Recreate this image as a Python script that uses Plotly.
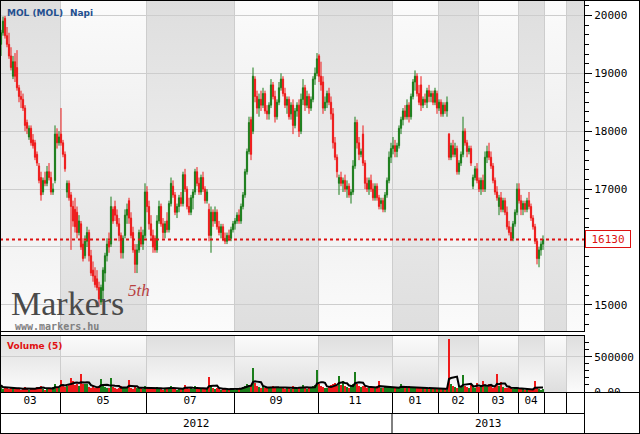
import base64
import pandas as pd
import plotly.graph_objects as go

# ---------------- data ----------------
open_ = [19500,19700,19950,19650,19500,19300,18950,19200,19100,18750,
 18600,18550,18400,18150,17900,18050,17850,17800,17600,17400,
 17200,16950,17150,17100,17300,17200,16950,17150,17950,17800,
 17950,17800,17600,16950,17100,16900,16700,16650,16600,16250,
 16400,16050,15850,16100,16250,15850,15600,15500,15450,15300,
 15050,15250,15550,15850,16100,16050,16650,16700,16550,16400,
 16200,15900,16200,16550,16800,16500,16250,15950,15700,15950,
 16250,16050,16200,16950,16700,16400,16200,16150,15950,16450,
 16700,16400,16250,16450,16300,16750,17050,16900,16600,16700,
 16850,16750,17250,17000,16700,16600,16850,16950,17300,17100,
 16950,17200,17000,16800,16650,16200,16600,16450,16600,16350,
 16250,16350,16150,16100,16200,16150,16300,16400,16450,16550,
 16450,16700,16900,17300,17650,18200,18000,18900,18600,18400,
 18550,18450,18650,18350,18300,18450,18800,18600,18250,18500,
 18750,18900,18650,18450,18550,18300,18450,18100,18350,18450,
 18000,18550,18750,18450,18600,18400,18550,18900,19000,19300,
 18950,18850,18400,18500,18650,18500,18300,17800,17550,17100,
 17200,17100,17150,17000,17050,16900,16950,17400,18150,17800,
 17600,17950,17450,17100,17000,17150,17000,16850,17050,16850,
 16750,16800,16650,16900,17150,17550,17700,17750,17650,17750,
 18050,18200,18350,18250,18450,18250,18600,18850,18950,18650,
 18800,18450,18550,18500,18700,18600,18650,18500,18650,18400,
 18500,18300,18450,18350,17950,17550,17750,17600,17700,17300,
 17450,17600,18000,17800,17650,17700,17050,17200,17350,17150,
 17000,17150,17000,17550,17650,17550,17400,17150,16950,16700,
 16850,16650,16800,16600,16350,16250,16150,16400,16600,17000,
 16800,16650,16750,16650,16800,16700,16500,16350,16100,15800,
 15950,16050]

high = [19750,19980,19990,19800,19700,19450,19300,19350,19400,18800,
 18700,18650,18450,18200,18100,18100,17950,17850,17650,17450,
 17300,17200,17300,17400,17450,17300,17100,18100,18050,18000,
 18400,17850,17650,17150,17150,16950,16800,16850,16700,16550,
 16450,16150,16200,16350,16300,15950,15750,15650,15600,15400,
 15350,15650,15900,16150,16250,16870,16700,16800,16650,16500,
 16250,16200,16650,16750,16850,16600,16350,16050,16050,16300,
 16350,16300,17100,17050,16800,16550,16300,16200,16550,16800,
 16750,16500,16450,16600,16800,17200,17150,16950,16750,16900,
 16950,17300,17350,17050,16850,16900,17000,17350,17380,17200,
 17250,17300,17050,17000,16750,16700,16650,16700,16650,16450,
 16400,16400,16250,16250,16300,16350,16450,16500,16600,16650,
 16750,16950,17350,17700,18250,18250,19100,18950,18700,18650,
 18700,18750,18700,18450,18500,18900,18850,18700,18550,18850,
 19000,18950,18750,18600,18600,18500,18550,18400,18500,18550,
 18650,18900,18800,18700,18650,18600,18950,19100,19350,19330,
 19200,18950,18600,18700,18750,18600,18400,17900,17600,17250,
 17300,17200,17250,17150,17100,17000,17500,18250,18200,17900,
 17700,18100,17500,17200,17200,17250,17100,17100,17100,16900,
 16850,16850,16950,17200,17650,17800,17900,17850,17800,18100,
 18250,18400,18450,18550,18500,18650,18900,19050,19000,18800,
 18950,18600,18650,18750,18800,18700,18700,18750,18700,18550,
 18550,18500,18500,18600,17970,17800,17850,17800,17750,17500,
 17650,18250,18050,17850,17750,17750,17250,17400,17450,17200,
 17200,17250,17650,17750,17800,17650,17450,17200,17050,16900,
 16950,16850,16850,16700,16450,16350,16450,16650,17100,17100,
 16900,16800,16800,16850,16950,16750,16550,16400,16150,16000,
 16100,16200]

low = [19300,19650,19600,19450,19250,19050,18900,18850,18700,18500,
 18400,18350,18000,17950,17850,17750,17700,17500,17400,17100,
 16800,16900,17050,17050,17150,16900,16900,17100,17700,17750,
 17750,17550,17300,16850,16800,15950,16350,16250,16150,16200,
 15950,15750,15800,16000,15750,15500,15400,15300,15250,14970,
 15000,15050,15400,15750,15900,16000,16400,16450,16350,16100,
 15800,15800,16150,16400,16400,16150,15900,15550,15550,15900,
 16000,15950,16150,16600,16300,16100,15900,15900,15900,16400,
 16350,16150,16150,16250,16250,16700,16850,16550,16500,16600,
 16700,16700,16950,16650,16550,16550,16650,16900,17050,16900,
 16900,16950,16750,16750,16100,15900,16350,16400,16300,16200,
 16150,16100,16050,16050,16100,16100,16250,16300,16400,16400,
 16400,16650,16850,17250,17600,17500,17950,18500,18300,18250,
 18350,18400,18300,18200,18200,18400,18550,18150,18200,18450,
 18700,18600,18400,18300,18200,18200,17950,18050,18250,17900,
 17950,18450,18350,18400,18300,18350,18500,18800,18950,18850,
 18700,18300,18350,18400,18450,18200,17700,17500,17200,16900,
 17050,16950,16950,16850,16850,16750,16900,17350,17700,17500,
 17550,17400,17000,16950,16900,16950,16800,16800,16800,16650,
 16650,16600,16600,16850,17100,17450,17600,17550,17550,17700,
 17950,18100,18200,18200,18150,18200,18550,18700,18600,18450,
 18350,18400,18450,18400,18500,18500,18450,18450,18300,18350,
 18250,18250,18300,18250,17500,17500,17550,17550,17250,17250,
 17400,17550,17750,17550,17600,17400,17000,17150,17100,16950,
 16900,16950,16950,17450,17500,17350,17100,16900,16800,16550,
 16600,16600,16550,16300,16200,16100,16100,16350,16550,16750,
 16550,16550,16600,16600,16650,16450,16300,16050,15700,15650,
 15850,15950]

close = [19700,19900,19650,19500,19300,19100,19200,18950,18750,18600,
 18550,18400,18100,18050,18050,17800,17750,17550,17450,17150,
 16900,17150,17100,17300,17200,16950,17000,17950,17800,17900,
 17800,17600,17350,17100,16850,16700,16450,16350,16250,16450,
 16000,15800,16100,16250,15850,15550,15500,15350,15300,15100,
 15300,15600,15850,16050,16000,16700,16450,16550,16400,16200,
 15900,16150,16550,16650,16500,16200,15950,15700,15950,16250,
 16050,16200,16950,16700,16400,16200,16000,15950,16450,16700,
 16400,16250,16400,16300,16750,17100,16900,16600,16700,16850,
 16750,17250,17000,16700,16600,16850,16950,17300,17100,16950,
 17200,17000,16800,16950,16200,16600,16450,16600,16350,16250,
 16350,16150,16100,16200,16150,16300,16400,16450,16550,16450,
 16700,16900,17300,17650,18150,17600,18950,18600,18400,18550,
 18450,18650,18350,18300,18450,18800,18600,18250,18500,18750,
 18900,18650,18450,18550,18250,18450,18100,18350,18450,18000,
 18550,18750,18450,18600,18400,18550,18900,19000,19250,18950,
 18800,18400,18500,18650,18500,18300,17800,17550,17300,17200,
 17100,17150,17000,17050,16900,16950,17400,18150,17800,17600,
 17650,17450,17100,17000,17150,17000,16850,17050,16850,16700,
 16800,16650,16900,17150,17550,17700,17750,17650,17750,18050,
 18200,18350,18250,18450,18250,18600,18850,18950,18650,18500,
 18450,18550,18500,18700,18600,18650,18500,18700,18400,18500,
 18300,18450,18350,18500,17550,17750,17600,17700,17300,17450,
 17600,18000,17800,17650,17700,17450,17200,17350,17150,17000,
 17150,17000,17550,17650,17550,17400,17150,16950,16850,16850,
 16650,16800,16600,16350,16250,16150,16400,16600,17000,16800,
 16650,16750,16650,16800,16700,16500,16350,16100,15800,15950,
 16050,16130]

volume = [95000,40000,70000,55000,40000,65000,50000,45000,60000,40000,
 35000,50000,70000,45000,30000,55000,40000,60000,75000,50000,
 80000,45000,35000,60000,40000,55000,65000,110000,70000,60000,
 170000,90000,75000,85000,120000,200000,150000,95000,110000,85000,
 250000,120000,110000,120000,70000,60000,80000,55000,65000,90000,
 190000,100000,75000,60000,50000,200000,70000,60000,45000,55000,
 80000,60000,70000,55000,170000,60000,45000,85000,55000,50000,
 60000,45000,90000,70000,55000,40000,60000,50000,75000,45000,
 40000,35000,55000,45000,60000,80000,50000,40000,35000,55000,
 45000,60000,100000,50000,40000,65000,45000,80000,50000,40000,
 55000,45000,60000,40000,210000,90000,50000,45000,60000,40000,
 35000,50000,40000,30000,45000,55000,40000,35000,50000,45000,
 60000,70000,85000,110000,95000,80000,340000,130000,90000,75000,
 60000,80000,55000,50000,65000,75000,90000,60000,50000,55000,
 70000,55000,45000,60000,50000,40000,85000,55000,45000,70000,
 60000,100000,55000,45000,60000,50000,80000,95000,310000,120000,
 90000,70000,55000,60000,80000,95000,110000,130000,90000,220000,
 100000,150000,80000,70000,60000,90000,110000,290000,120000,85000,
 70000,90000,80000,60000,55000,70000,65000,50000,80000,150000,
 60000,55000,70000,80000,90000,60000,75000,55000,65000,50000,
 120000,70000,60000,55000,80000,65000,75000,60000,55000,70000,
 60000,50000,65000,45000,55000,60000,40000,50000,55000,45000,
 50000,40000,45000,35000,750000,120000,90000,70000,60000,80000,
 55000,240000,90000,70000,60000,120000,85000,60000,130000,70000,
 65000,150000,80000,70000,110000,90000,60000,75000,250000,80000,
 140000,70000,60000,55000,65000,50000,45000,60000,55000,50000,
 40000,45000,35000,40000,30000,45000,35000,150000,60000,40000,
 35000,40000]

month_labels = ["03", "05", "07", "09", "11", "01", "02", "03", "04", "", ""]
month_days = [30, 43, 44, 42, 37, 23, 20, 20, 13, 11, 9]   # trading days per cell
year_labels = ["2012", "2013"]
year_cells = [5, 6]                                         # month cells per year
last_price = 16130
price_ticks = [15000, 16000, 17000, 18000, 19000, 20000]
price_ticktext = ["15000", "", "17000", "18000", "19000", "20000"]  # 16000 hidden by price box
volume_ticks = [0, 500000]
volume_ticktext = ["0.00", "500000"]
title_text = "MOL (MOL)"
period_text = "Napi"
volume_title = "Volume (5)"

# ---------------- derived ----------------
days = list(range(len(close)))
bounds = [-0.5]
for d in month_days:
    bounds.append(bounds[-1] + d)
centers = [(bounds[k] + bounds[k + 1]) / 2 for k in range(len(month_days))]
ybounds = [bounds[0]]
c = 0
for n in year_cells:
    c += n
    ybounds.append(bounds[c])
ycenters = [(ybounds[k] + ybounds[k + 1]) / 2 for k in range(len(year_labels))]
vol_ma = pd.Series(volume).rolling(5, min_periods=1).mean()

GREEN = "#1a7d1a"
RED = "#ee1a1a"
GRID = "#cdcdcd"
MONO = "DejaVu Sans Mono"
W, H = 640, 434


def PX(x):
    return x / W


def PY(y):
    return 1 - y / H


vol_colors = [GREEN if cl >= op else RED for op, cl in zip(open_, close)]


def grad(top, bottom):
    svg = ('<svg xmlns="http://www.w3.org/2000/svg" viewBox="0 0 10 100" width="10" height="100" '
           'preserveAspectRatio="none"><defs><linearGradient id="g" x1="0" y1="0" x2="0" y2="1">'
           f'<stop offset="0" stop-color="{top}"/><stop offset="1" stop-color="{bottom}"/>'
           '</linearGradient></defs><rect x="0" y="0" width="10" height="100" fill="url(#g)"/></svg>')
    return "data:image/svg+xml;base64," + base64.b64encode(svg.encode()).decode()


LIGHT_TOP = grad("#fbfbfb", "#dedede")
GREY_TOP = grad("#dedede", "#fbfbfb")

fig = go.Figure()
fig.add_trace(go.Candlestick(
    x=days, open=open_, high=high, low=low, close=close,
    increasing=dict(line=dict(color=GREEN, width=1), fillcolor=GREEN),
    decreasing=dict(line=dict(color=RED, width=1), fillcolor=RED),
    whiskerwidth=0, xaxis="x", yaxis="y", hoverinfo="skip", showlegend=False))
fig.add_trace(go.Bar(
    x=days, y=volume, marker=dict(color=vol_colors, line=dict(width=0)), width=0.85,
    xaxis="x2", yaxis="y2", hoverinfo="skip", showlegend=False))
fig.add_trace(go.Scatter(
    x=days, y=vol_ma, mode="lines", line=dict(color="black", width=2),
    xaxis="x2", yaxis="y2", hoverinfo="skip", showlegend=False))

images = []
for k in range(len(month_days)):
    src = GREY_TOP if k % 2 == 0 else LIGHT_TOP
    for xr, yr in (("x", "y domain"), ("x2", "y2 domain")):
        images.append(dict(source=src, xref=xr, yref=yr, x=bounds[k], y=1,
                           sizex=month_days[k], sizey=1, xanchor="left", yanchor="top",
                           sizing="stretch", layer="below"))

shapes = [
    # last price dotted line
    dict(type="line", xref="x", yref="y", x0=bounds[0], x1=bounds[-1], y0=last_price, y1=last_price,
         line=dict(color="#dd1111", width=2, dash="dot"), layer="above"),
    # panel separators
    dict(type="line", xref="paper", yref="paper", x0=0, x1=PX(585), y0=PY(331.5), y1=PY(331.5),
         line=dict(color="black", width=1), layer="above"),
    dict(type="line", xref="paper", yref="paper", x0=0, x1=PX(585), y0=PY(335.5), y1=PY(335.5),
         line=dict(color="black", width=1), layer="above"),
    # cover lower half of the 0 label
    dict(type="rect", xref="paper", yref="paper", x0=PX(586), x1=1, y0=0, y1=PY(392.5),
         fillcolor="white", line=dict(width=0), layer="above"),
    dict(type="line", xref="paper", yref="paper", x0=0, x1=1, y0=PY(392.5), y1=PY(392.5),
         line=dict(color="black", width=1), layer="above"),
    dict(type="line", xref="paper", yref="paper", x0=0, x1=PX(585), y0=PY(413.5), y1=PY(413.5),
         line=dict(color="black", width=1), layer="above"),
    dict(type="line", xref="paper", yref="paper", x0=PX(584.5), x1=PX(584.5), y0=0, y1=PY(392.5),
         line=dict(color="black", width=1), layer="above"),
    dict(type="line", xref="x2", yref="paper", x0=ybounds[1], x1=ybounds[1], y0=0, y1=PY(413.5),
         line=dict(color="black", width=1), layer="above"),
    # outer frame
    dict(type="rect", xref="paper", yref="paper", x0=0, x1=1, y0=0, y1=1,
         line=dict(color="black", width=2), layer="above"),
]

annotations = [
    dict(xref="paper", yref="paper", x=PX(5), y=PY(13), xanchor="left", yanchor="middle",
         text=f"<b>{title_text}</b>", showarrow=False,
         font=dict(family="DejaVu Sans", size=9, color="#1f4f8f")),
    dict(xref="paper", yref="paper", x=PX(68), y=PY(13), xanchor="left", yanchor="middle",
         text=f"<b>{period_text}</b>", showarrow=False,
         font=dict(family="DejaVu Sans", size=9, color="#1f4f8f")),
    dict(xref="paper", yref="paper", x=PX(5), y=PY(346), xanchor="left", yanchor="middle",
         text=f"<b>{volume_title}</b>", showarrow=False,
         font=dict(family="DejaVu Sans", size=9, color="#e01010")),
    dict(xref="paper", yref="y", x=PX(585), y=last_price, xanchor="left", yanchor="middle",
         text=str(last_price), showarrow=False, width=44, height=16,
         font=dict(family=MONO, size=11, color="#dd1111"),
         bgcolor="white", bordercolor="#dd1111", borderwidth=1, borderpad=0),
    # watermark
    dict(xref="paper", yref="paper", x=PX(9), y=PY(303), xanchor="left", yanchor="middle",
         text="Markers", showarrow=False,
         font=dict(family="Liberation Serif", size=34, color="#4a4a4a")),
    dict(xref="paper", yref="paper", x=PX(126), y=PY(290), xanchor="left", yanchor="middle",
         text="<i>5th</i>", showarrow=False,
         font=dict(family="Liberation Serif", size=17, color="#b84040")),
    dict(xref="paper", yref="paper", x=PX(13), y=PY(326), xanchor="left", yanchor="middle",
         text="<b>www.markers.hu</b>", showarrow=False,
         font=dict(family=MONO, size=10, color="#808080")),
]
for lab, xc in zip(year_labels, ycenters):
    annotations.append(dict(xref="x2", yref="paper", x=xc, y=PY(423.5), xanchor="center",
                            yanchor="middle", text=lab, showarrow=False,
                            font=dict(family=MONO, size=11, color="black")))

tickfont = dict(family=MONO, size=11, color="black")
fig.update_layout(
    width=W, height=H, autosize=False,
    margin=dict(l=0, r=0, t=0, b=0, pad=0),
    paper_bgcolor="white", plot_bgcolor="white",
    showlegend=False, bargap=0, boxgap=0.15, hovermode=False,
    xaxis=dict(domain=[0, PX(584)], range=[bounds[0], bounds[-1]], anchor="y", automargin=False,
               tickmode="array", tickvals=bounds, showticklabels=False, ticks="",
               showgrid=True, gridcolor=GRID, gridwidth=1, zeroline=False, showline=False,
               rangeslider=dict(visible=False), fixedrange=True),
    yaxis=dict(domain=[PY(331), PY(1)], range=[14549, 20249], anchor="x", side="right",
               automargin=False,
               tickmode="array", tickvals=price_ticks, ticktext=price_ticktext,
               ticks="outside", ticklen=7,
               tickcolor="black", tickwidth=1, showline=True, linecolor="black", linewidth=1,
               showgrid=True, gridcolor=GRID, zeroline=False, tickfont=tickfont,
               minor=dict(dtick=1000 / 6, tick0=0, ticks="outside", ticklen=4,
                          tickcolor="black", tickwidth=1, showgrid=False)),
    xaxis2=dict(domain=[0, PX(584)], range=[bounds[0], bounds[-1]], anchor="y2", automargin=False,
                tickmode="array", tickvals=centers, ticktext=month_labels, ticks="",
                showgrid=False, zeroline=False, showline=False, tickfont=tickfont,
                minor=dict(tickmode="array", tickvals=bounds, ticks="outside", ticklen=21,
                           tickcolor="black", tickwidth=1, showgrid=True, gridcolor=GRID)),
    yaxis2=dict(domain=[PY(392), PY(336)], range=[0, 793000], anchor="x2", side="right",
                automargin=False,
                tickmode="array", tickvals=volume_ticks, ticktext=volume_ticktext,
                ticks="outside", ticklen=7, tickcolor="black", tickwidth=1,
                showline=True, linecolor="black", linewidth=1,
                showgrid=True, gridcolor=GRID, zeroline=False, tickfont=tickfont,
                minor=dict(dtick=100000, tick0=0, ticks="outside", ticklen=4,
                           tickcolor="black", tickwidth=1, showgrid=False)),
    images=images, shapes=shapes, annotations=annotations,
)

fig.write_html(
    "out.html",
    config={"displayModeBar": False, "staticPlot": True},
    post_script="document.body.style.margin='0';document.body.style.overflow='hidden';",
)
